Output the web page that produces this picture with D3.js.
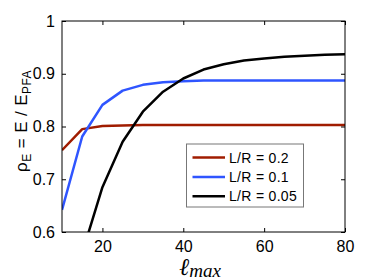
<!DOCTYPE html>
<html>
<head>
<meta charset="utf-8">
<script src="https://cdn.jsdelivr.net/npm/d3@7"></script>
<style>
  body { margin: 0; background: #fff; }
  text { font-family: "Liberation Sans", Arial, sans-serif; }
</style>
</head>
<body>
<div id="chart"></div>
<script>
// l_max values
const lmax = [10, 15, 20, 25, 30, 35, 40, 45, 50, 55, 60, 65, 70, 75, 80];

// rho_E for each L/R
const rhoLR02 = [0.755, 0.795, 0.801, 0.802, 0.803, 0.803, 0.803, 0.803, 0.803, 0.803, 0.803, 0.803, 0.803, 0.803, 0.803];
const rhoLR01 = [0.642, 0.781, 0.841, 0.868, 0.879, 0.884, 0.886, 0.887, 0.887, 0.887, 0.887, 0.887, 0.887, 0.887, 0.887];
const rhoLR005 = [0.45, 0.56, 0.685, 0.771, 0.828, 0.866, 0.891, 0.908, 0.918, 0.925, 0.929, 0.932, 0.934, 0.936, 0.937];

const seriesNames = ["L/R = 0.2", "L/R = 0.1", "L/R = 0.05"];
const seriesColors = ["#a01c00", "#2f55ff", "#000000"];

const xTicks = [20, 40, 60, 80];
const yTicks = [0.6, 0.7, 0.8, 0.9, 1];

const svgWidth = 382;
const svgHeight = 279;

const margin = { top: 21, right: 37, bottom: 47, left: 62 };
const width = svgWidth - margin.left - margin.right;
const height = svgHeight - margin.top - margin.bottom;

const svg = d3.select("#chart")
              .append("svg")
              .attr("width", svgWidth)
              .attr("height", svgHeight);

const chartGroup = svg.append("g")
                      .attr("transform", `translate(${margin.left}, ${margin.top})`);

const xScale = d3.scaleLinear().domain([10, 80]).range([0, width]);
const yScale = d3.scaleLinear().domain([0.6, 1]).range([height, 0]);

// clip lines to the axes box
chartGroup.append("clipPath")
          .attr("id", "plotClip")
          .append("rect")
          .attr("width", width)
          .attr("height", height);

const series = [rhoLR02, rhoLR01, rhoLR005];
const line = d3.line()
               .x((d, i) => xScale(lmax[i]))
               .y(d => yScale(d));

chartGroup.append("g")
          .attr("clip-path", "url(#plotClip)")
          .selectAll("path")
          .data(series)
          .enter()
          .append("path")
          .attr("d", line)
          .attr("fill", "none")
          .attr("stroke", (d, i) => seriesColors[i])
          .attr("stroke-width", 2.5)
          .attr("stroke-linejoin", "round");

// axes: ticks point inward, like matlab
const xAxis = chartGroup.append("g")
                        .attr("transform", `translate(0, ${height})`)
                        .call(d3.axisBottom(xScale).tickValues(xTicks).tickSizeInner(-4).tickSizeOuter(0).tickPadding(9));
const yAxis = chartGroup.append("g")
                        .call(d3.axisLeft(yScale).tickValues(yTicks).tickSizeInner(-4).tickSizeOuter(0).tickPadding(7)
                                .tickFormat(d => d === 1 ? "1" : d3.format(".1f")(d)));
chartGroup.append("g")
          .call(d3.axisTop(xScale).tickValues(xTicks).tickSizeInner(-4).tickSizeOuter(0).tickFormat(""));
chartGroup.append("g")
          .attr("transform", `translate(${width}, 0)`)
          .call(d3.axisRight(yScale).tickValues(yTicks).tickSizeInner(-4).tickSizeOuter(0).tickFormat(""));

chartGroup.selectAll(".tick text")
          .style("font-size", "16px")
          .style("font-family", "'Liberation Sans', Arial, sans-serif")
          .attr("fill", "#000");
chartGroup.selectAll(".domain").remove();
chartGroup.selectAll(".tick line").attr("stroke", "#000");

chartGroup.append("rect")
          .attr("width", width)
          .attr("height", height)
          .attr("fill", "none")
          .attr("stroke", "#000")
          .attr("stroke-width", 1);

// legend
const legend = chartGroup.append("g")
                         .attr("transform", `translate(${186.5 - margin.left}, ${144 - margin.top})`);
legend.append("rect")
      .attr("width", 117)
      .attr("height", 63)
      .attr("fill", "#fff")
      .attr("stroke", "#777")
      .attr("stroke-width", 1);
const legendRows = legend.selectAll("g.row")
                         .data(seriesNames)
                         .enter()
                         .append("g")
                         .attr("class", "row")
                         .attr("transform", (d, i) => `translate(0, ${13.5 + i * 19.4})`);
legendRows.append("line")
          .attr("x1", 6)
          .attr("x2", 38.5)
          .attr("stroke", (d, i) => seriesColors[i])
          .attr("stroke-width", 2.5);
legendRows.append("text")
          .attr("x", 42.5)
          .attr("dy", "0.36em")
          .style("font-size", "14px")
          .style("letter-spacing", "0.3px")
          .text(d => d);

// y label
const yLabel = svg.append("text")
                  .attr("transform", `translate(27, 121) rotate(-90)`)
                  .attr("text-anchor", "middle")
                  .style("font-size", "17px")
                  .style("letter-spacing", "0.4px");
yLabel.append("tspan").text("ρ");
yLabel.append("tspan").attr("dy", 4).style("font-size", "12px").text("E");
yLabel.append("tspan").attr("dy", -4).text(" = E / E");
yLabel.append("tspan").attr("dy", 4).style("font-size", "12px").text("PFA");

// x label
const xLabel = svg.append("text")
                  .attr("x", 200)
                  .attr("y", 275)
                  .attr("text-anchor", "middle")
                  .style("font-family", "'Liberation Serif', 'DejaVu Serif', serif")
                  .style("font-style", "italic")
                  .style("font-size", "24px");
xLabel.append("tspan").text("ℓ");
xLabel.append("tspan").attr("dy", 1.5).style("font-size", "19px").text("max");
</script>
</body>
</html>
